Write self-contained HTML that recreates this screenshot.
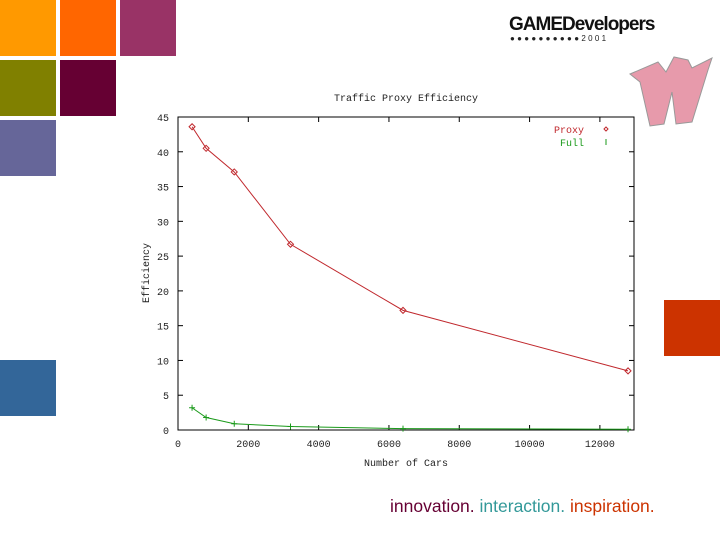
<!DOCTYPE html>
<html><head><meta charset="utf-8"><style>
body{margin:0;width:720px;height:540px;background:#fff;position:relative;overflow:hidden;font-family:"Liberation Sans",sans-serif}
.sq{position:absolute;width:56px;height:56px}
</style></head><body>
<div class="sq" style="left:0;top:0;background:#ff9900"></div>
<div class="sq" style="left:60px;top:0;background:#ff6600"></div>
<div class="sq" style="left:120px;top:0;background:#993366"></div>
<div class="sq" style="left:0;top:60px;background:#808000"></div>
<div class="sq" style="left:60px;top:60px;background:#660033"></div>
<div class="sq" style="left:0;top:120px;background:#666699"></div>
<div class="sq" style="left:0;top:360px;background:#336699"></div>
<div class="sq" style="left:664px;top:300px;background:#cc3300"></div>
<div style="position:absolute;left:509px;top:14px;font-weight:bold;font-size:19px;letter-spacing:-1px;color:#111">GAMEDevelopers</div>
<div style="position:absolute;left:510px;top:34px;font-size:8px;letter-spacing:2.3px;color:#222">●●●●●●●●●●2001</div>
<svg style="position:absolute;left:628px;top:52px" width="86" height="76"><path d="M2,22 L30,10 L38,20 L46,5 L60,8 L64,16 L84,6 L80,18 L64,70 L48,72 L44,40 L36,72 L22,74 L12,30 Z" fill="#e79aab" stroke="#999" stroke-width="1"/></svg>
<svg id="chart" width="720" height="540" style="position:absolute;left:0;top:0" font-family="Liberation Mono, monospace" font-size="10"></svg>
<div style="position:absolute;left:390px;top:496px;font-size:17.5px;white-space:nowrap"><span style="color:#660033">innovation.</span> <span style="color:#339999">interaction.</span> <span style="color:#cc3300">inspiration.</span></div>
<script>
const xTicks=[0,2000,4000,6000,8000,10000,12000];
const yTicks=[0,5,10,15,20,25,30,35,40,45];
const cars=[400,800,1600,3200,6400,12800];
const proxy=[43.6,40.5,37.1,26.7,17.2,8.5];
const full=[3.2,1.8,0.9,0.5,0.2,0.1];
const svg=document.getElementById('chart');
const NS='http://www.w3.org/2000/svg';
const L=178,R=634,T=117,B=430,XMAX=12970,YMAX=45;
const sx=v=>L+(v/XMAX)*(R-L), sy=v=>B-(v/YMAX)*(B-T);
function mk(t,a,txt){const e=document.createElementNS(NS,t);for(const k in a)e.setAttribute(k,a[k]);if(txt!=null)e.textContent=txt;svg.appendChild(e);return e;}
let e=mk('rect',{x:L,y:T,width:R-L,height:B-T,fill:'none',stroke:'#000','stroke-width':1});


xTicks.forEach(v=>{const x=sx(v);
mk('line',{x1:x,x2:x,y1:B,y2:B-5,stroke:'#000'});mk('line',{x1:x,x2:x,y1:T,y2:T+5,stroke:'#000'});
const t=mk('text',{x:x,y:B+17,'text-anchor':'middle',fill:'#222'},String(v));

});
yTicks.forEach(v=>{const y=sy(v);
mk('line',{x1:L,x2:L+5,y1:y,y2:y,stroke:'#000'});mk('line',{x1:R,x2:R-5,y1:y,y2:y,stroke:'#000'});
const t=mk('text',{x:L-9,y:y+4,'text-anchor':'end',fill:'#222'},String(v));

});
e=mk('text',{x:406,y:101,'text-anchor':'middle',fill:'#222'},'Traffic Proxy Efficiency');


e=mk('text',{x:406,y:466,'text-anchor':'middle',fill:'#222'},'Number of Cars');


e=mk('text',{x:149,y:273,'text-anchor':'middle',fill:'#222',transform:'rotate(-90 149 273)'},'Efficiency');


function series(vals,col,name,marker){
const p=mk('polyline',{points:cars.map((c,i)=>sx(c)+','+sy(vals[i])).join(' '),fill:'none',stroke:col,'stroke-width':1});


cars.forEach((c,i)=>{const x=sx(c),y=sy(vals[i]);let m;
if(marker==='d')m=mk('path',{d:`M${x-3},${y}L${x},${y-3}L${x+3},${y}L${x},${y+3}Z`,fill:'none',stroke:col});
else m=mk('path',{d:`M${x-3},${y}H${x+3}M${x},${y-3}V${y+3}`,stroke:col});

});}
series(proxy,'#c0282d','proxy','d');
series(full,'#1a9a1a','full','p');
e=mk('text',{x:584,y:133,'text-anchor':'end',fill:'#c0282d'},'Proxy');


mk('path',{d:'M604,129L606,127L608,129L606,131Z',fill:'none',stroke:'#c0282d'});
e=mk('text',{x:584,y:146,'text-anchor':'end',fill:'#1a9a1a'},'Full');


mk('path',{d:'M606,139V145',stroke:'#1a9a1a'});
</script>
</body></html>
